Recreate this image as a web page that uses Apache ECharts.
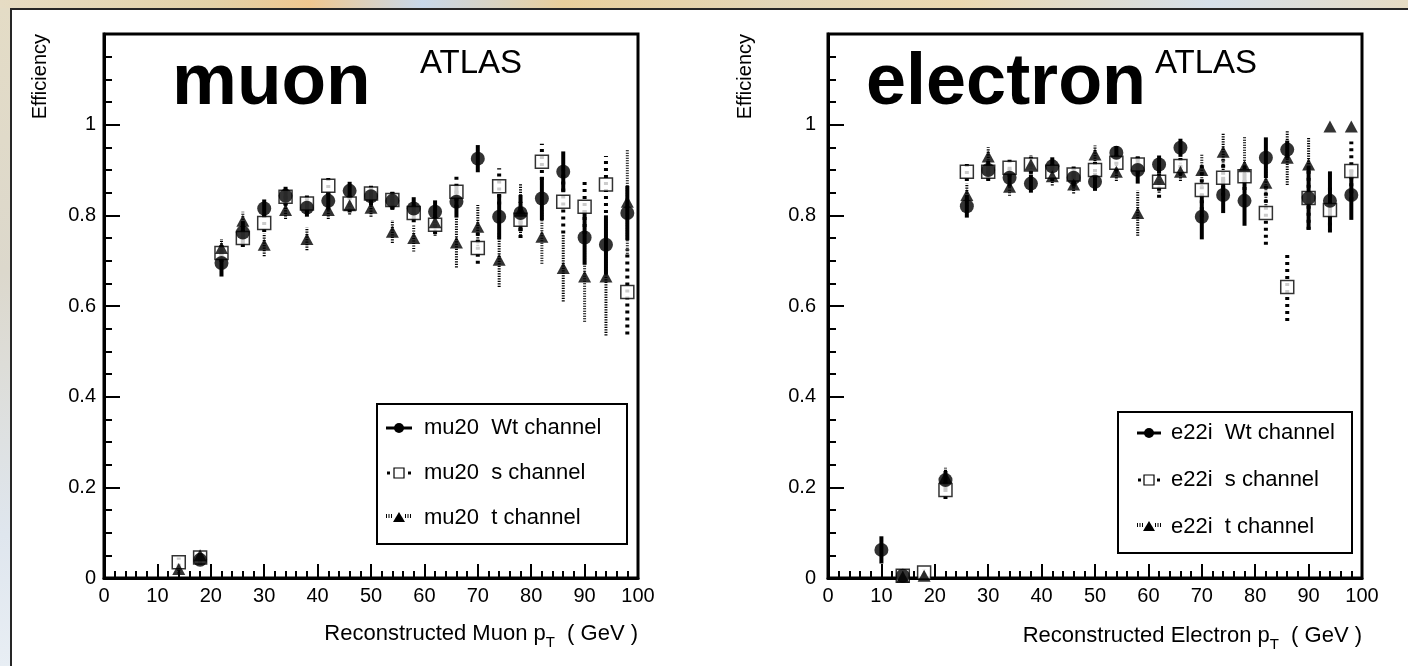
<!DOCTYPE html>
<html><head><meta charset="utf-8">
<script src="https://cdn.jsdelivr.net/npm/echarts@6/dist/echarts.min.js"></script>
<style>
html,body{margin:0;padding:0;width:1408px;height:666px;overflow:hidden;}
body{background:linear-gradient(90deg,#e6dcc4 0%,#e3d2a8 15%,#f0c890 22%,#c8d8ea 30%,#e9cf9c 40%,#e2d6b8 55%,#ecd9b0 68%,#d6e0ea 86%,#e6dcc4 100%);}
#strip{position:absolute;left:0;top:8px;width:10px;height:658px;background:linear-gradient(180deg,#e4dcc6 0%,#dcd8cc 40%,#dfe6ee 80%,#e8eef4 100%);}
#frame{position:absolute;left:10px;top:8px;width:1398px;height:658px;background:#fff;border-left:2px solid #262626;border-top:2px solid #262626;box-sizing:border-box;}
#chart{position:absolute;left:0;top:0;width:1408px;height:666px;}
</style></head>
<body>
<div id="strip"></div>
<div id="frame"></div>
<div id="chart"></div>
<script>
// ---------------- data ----------------
const muonPt = [14,18,22,26,30,34,38,42,46,50,54,58,62,66,70,74,78,82,86,90,94,98];
const muWt   = [null,0.040,0.695,0.762,0.815,0.843,0.817,0.832,0.854,0.842,0.832,0.815,0.808,0.830,0.925,0.797,0.805,0.837,0.896,0.751,0.735,0.805];
const muWtErr= [null,0.010,0.030,0.025,0.020,0.020,0.020,0.020,0.020,0.020,0.020,0.025,0.025,0.035,0.030,0.050,0.040,0.048,0.045,0.060,0.065,0.060];
const muS    = [0.035,0.045,0.717,0.750,0.783,0.841,0.826,0.865,0.826,0.848,0.834,0.805,0.779,0.852,0.728,0.864,0.790,0.918,0.830,0.819,0.868,0.631];
const muSErr = [0.010,0.010,0.020,0.020,0.020,0.020,0.020,0.020,0.020,0.020,0.020,0.020,0.020,0.035,0.035,0.040,0.040,0.040,0.070,0.060,0.063,0.094];
const muT    = [0.020,0.050,0.728,0.788,0.735,0.812,0.748,0.812,0.822,0.817,0.764,0.750,0.785,0.740,0.775,0.702,0.810,0.753,0.684,0.665,0.665,0.830];
const muTErr = [0.010,0.010,0.020,0.020,0.025,0.020,0.025,0.020,0.020,0.020,0.025,0.030,0.030,0.055,0.048,0.060,0.060,0.060,0.074,0.100,0.130,0.115];

const elecPt = [10,14,18,22,26,30,34,38,42,46,50,54,58,62,66,70,74,78,82,86,90,94,98];
const eWt    = [0.062,0.005,null,0.216,0.820,0.900,0.883,0.870,0.908,0.883,0.874,0.938,0.900,0.912,0.949,0.797,0.845,0.832,0.927,0.945,0.838,0.832,0.845];
const eWtErr = [0.030,0.005,null,0.020,0.025,0.020,0.020,0.020,0.020,0.020,0.020,0.015,0.030,0.020,0.020,0.050,0.040,0.055,0.045,0.020,0.070,0.065,0.055];
const eS     = [null,0.005,0.012,0.194,0.896,0.896,0.905,0.912,0.896,0.890,0.900,0.916,0.912,0.874,0.909,0.856,0.883,0.886,0.805,0.642,0.838,0.812,0.898];
const eSErr  = [null,0.005,0.008,0.020,0.020,0.020,0.020,0.020,0.020,0.020,0.020,0.020,0.020,0.035,0.020,0.060,0.040,0.030,0.070,0.075,0.070,0.050,0.065];
const eT     = [null,0.003,0.005,0.223,0.845,0.930,0.863,0.912,0.886,0.868,0.934,0.896,0.805,0.880,0.896,0.900,0.940,0.908,0.872,0.927,0.912,0.996,0.996];
const eTErr  = [null,0.003,0.005,0.020,0.025,0.020,0.020,0.020,0.020,0.020,0.020,0.020,0.050,0.030,0.020,0.035,0.040,0.065,0.050,0.060,0.060,0.000,0.000];

const xTicks = [0,10,20,30,40,50,60,70,80,90,100];
const yTicks = [0,0.2,0.4,0.6,0.8,1];
const muonLegend = ['mu20  Wt channel','mu20  s channel','mu20  t channel'];
const elecLegend = ['e22i  Wt channel','e22i  s channel','e22i  t channel'];

// ---------------- chart ----------------
const FONT = 'Liberation Sans, Arial, Helvetica, sans-serif';
const chart = echarts.init(document.getElementById('chart'), null, {renderer:'canvas'});

const STY = {
  wt: {w:4, dash:null},
  s:  {w:4, dash:[3,4]},
  t:  {w:3, dash:[1.2,1.3]}
};

function pts(xs, ys){ return xs.map((x,i)=> ys[i]==null ? null : [x, ys[i]]).filter(d=>d); }
function errs(xs, ys, es){
  return xs.map((x,i)=> (ys[i]==null||es[i]==null||es[i]===0) ? null : [x, ys[i]-es[i], ys[i]+es[i]]).filter(d=>d);
}
function errSeries(g, xs, ys, es, st, z){
  return {
    type:'custom', xAxisIndex:g, yAxisIndex:g, z:z, silent:true,
    encode:{x:0, y:[1,2]},
    data: errs(xs, ys, es),
    renderItem:function(params, api){
      const lo = api.coord([api.value(0), api.value(1)]);
      const hi = api.coord([api.value(0), api.value(2)]);
      return {type:'line', shape:{x1:lo[0], y1:lo[1], x2:hi[0], y2:hi[1]},
        style:{stroke:'#000', lineWidth:st.w, lineDash:st.dash}};
    }
  };
}
function markSeries(g, xs, ys, kind, z){
  const base = {type:'scatter', xAxisIndex:g, yAxisIndex:g, z:z, silent:true, data:pts(xs, ys)};
  if(kind==='wt') return Object.assign(base,{symbol:'circle', symbolSize:14, itemStyle:{color:'#000'}});
  if(kind==='s')  return Object.assign(base,{symbol:'rect', symbolSize:13, itemStyle:{color:'#fff', borderColor:'#000', borderWidth:1.5}});
  return Object.assign(base,{symbol:'triangle', symbolSize:[13,12], itemStyle:{color:'#000'}});
}

const grids = [
  {left:104, top:34, width:534, height:544},
  {left:828, top:34, width:534, height:544}
];

function xAxisCfg(g){
  return {
    gridIndex:g, type:'value', min:xTicks[0], max:xTicks[xTicks.length-1], interval:10,
    axisLine:{show:true, onZero:false, lineStyle:{color:'#000', width:3}},
    axisTick:{show:true, inside:true, length:14, lineStyle:{color:'#000', width:2}},
    minorTick:{show:true, splitNumber:5, length:7, lineStyle:{color:'#000', width:2}},
    splitLine:{show:false},
    axisLabel:{color:'#000', fontFamily:FONT, fontSize:20, margin:8,
      formatter:v=> xTicks.indexOf(v)>=0 ? String(v) : ''}
  };
}
function yAxisCfg(g){
  return {
    gridIndex:g, type:'value', min:0, max:1.2, interval:0.2,
    axisLine:{show:true, onZero:false, lineStyle:{color:'#000', width:3}},
    axisTick:{show:true, inside:true, length:16, lineStyle:{color:'#000', width:2}},
    minorTick:{show:true, splitNumber:4, length:8, lineStyle:{color:'#000', width:2}},
    splitLine:{show:false},
    axisLabel:{color:'#000', fontFamily:FONT, fontSize:20, margin:g===0?8:12,
      formatter:v=>{ const r=Math.round(v*10)/10; return yTicks.indexOf(r)>=0 ? String(r) : ''; }}
  };
}

function legendGraphics(box, rows, sx0, sx1, tx, labels){
  const out = [{type:'rect', shape:{x:box[0], y:box[1], width:box[2], height:box[3]},
    style:{fill:'#fff', stroke:'#000', lineWidth:2}, z:50}];
  const cx = (sx0+sx1)/2;
  // Wt
  out.push({type:'line', shape:{x1:sx0,y1:rows[0],x2:sx1,y2:rows[0]}, style:{stroke:'#000', lineWidth:3}, z:51});
  out.push({type:'circle', shape:{cx:cx, cy:rows[0], r:5}, style:{fill:'#000'}, z:52});
  // s
  out.push({type:'rect', shape:{x:sx0+1, y:rows[1]-1.5, width:3, height:3}, style:{fill:'#000'}, z:51});
  out.push({type:'rect', shape:{x:sx1-4, y:rows[1]-1.5, width:3, height:3}, style:{fill:'#000'}, z:51});
  out.push({type:'rect', shape:{x:cx-5, y:rows[1]-5, width:10, height:10}, style:{fill:'#fff', stroke:'#000', lineWidth:1.2}, z:52});
  // t
  out.push({type:'line', shape:{x1:sx0,y1:rows[2]-2,x2:cx-6,y2:rows[2]-2}, style:{stroke:'#000', lineWidth:4, lineDash:[1,1.5]}, z:51});
  out.push({type:'line', shape:{x1:cx+6,y1:rows[2]-2,x2:sx1,y2:rows[2]-2}, style:{stroke:'#000', lineWidth:4, lineDash:[1,1.5]}, z:51});
  out.push({type:'polygon', shape:{points:[[cx-6,rows[2]+4],[cx+6,rows[2]+4],[cx,rows[2]-6]]}, style:{fill:'#000'}, z:52});
  labels.forEach((t,i)=> out.push({type:'text', x:tx, y:rows[i], z:52,
    style:{text:t, fill:'#000', font:'22px '+FONT, verticalAlign:'middle', align:'left'}}));
  return out;
}

function xTitle(x, y, main){
  return {type:'text', x:x, y:y, z:40, style:{
    text:'{a|'+main+' p}{s|T}{a|  ( GeV )}', align:'right', verticalAlign:'middle', fill:'#000',
    rich:{a:{fontFamily:FONT, fontSize:22, lineHeight:32, verticalAlign:'middle', fill:'#000'},
          s:{fontFamily:FONT, fontSize:15, lineHeight:32, verticalAlign:'bottom', fill:'#000'}}
  }};
}
function yTitle(x, y){
  return {type:'text', x:x, y:y, rotation:Math.PI/2, z:40,
    style:{text:'Efficiency', font:'20px '+FONT, fill:'#000', align:'right', verticalAlign:'middle'}};
}

const graphics = [
  {type:'text', x:172, y:120, z:40, style:{text:'muon', font:'bold 73px '+FONT, fill:'#000', verticalAlign:'bottom'}},
  {type:'text', x:420, y:80, z:40, style:{text:'ATLAS', font:'33px '+FONT, fill:'#000', verticalAlign:'bottom'}},
  {type:'text', x:866, y:120, z:40, style:{text:'electron', font:'bold 72px '+FONT, fill:'#000', verticalAlign:'bottom'}},
  {type:'text', x:1155, y:80, z:40, style:{text:'ATLAS', font:'33px '+FONT, fill:'#000', verticalAlign:'bottom'}},
  yTitle(40, 34), yTitle(745, 34),
  xTitle(638, 634, 'Reconstructed Muon'),
  xTitle(1362, 636, 'Reconstructed Electron')
].concat(
  legendGraphics([377,404,250,140],[428,473,518],386,412,424,muonLegend),
  legendGraphics([1118,412,234,141],[433,480,527],1137,1161,1171,elecLegend)
);

const series = [
  errSeries(0, muonPt, muS, muSErr, STY.s, 2),
  errSeries(0, muonPt, muT, muTErr, STY.t, 2),
  errSeries(0, muonPt, muWt, muWtErr, STY.wt, 3),
  markSeries(0, muonPt, muS, 's', 4),
  markSeries(0, muonPt, muT, 't', 5),
  markSeries(0, muonPt, muWt, 'wt', 6),
  errSeries(1, elecPt, eS, eSErr, STY.s, 2),
  errSeries(1, elecPt, eT, eTErr, STY.t, 2),
  errSeries(1, elecPt, eWt, eWtErr, STY.wt, 3),
  markSeries(1, elecPt, eS, 's', 4),
  markSeries(1, elecPt, eT, 't', 5),
  markSeries(1, elecPt, eWt, 'wt', 6)
];

chart.setOption({
  animation:false,
  backgroundColor:'transparent',
  grid: grids.map(g=>Object.assign({show:true, borderColor:'#000', borderWidth:3, backgroundColor:'transparent'}, g)),
  xAxis:[xAxisCfg(0), xAxisCfg(1)],
  yAxis:[yAxisCfg(0), yAxisCfg(1)],
  series: series,
  graphic: graphics
});
</script>
</body></html>
